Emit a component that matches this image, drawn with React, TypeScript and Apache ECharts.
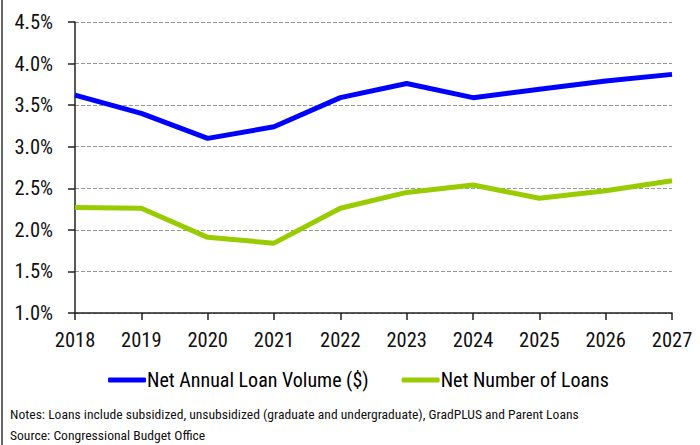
import React, { useEffect, useRef } from "react";
import * as echarts from "echarts";

const years = ["2018", "2019", "2020", "2021", "2022", "2023", "2024", "2025", "2026", "2027"];
const loanVolume = [3.62, 3.40, 3.10, 3.24, 3.59, 3.76, 3.59, 3.69, 3.79, 3.87];
const loanCount = [2.27, 2.26, 1.91, 1.84, 2.26, 2.45, 2.54, 2.38, 2.47, 2.59];
const seriesNames = ["Net Annual Loan Volume ($)", "Net Number of Loans"];
const notes = "Notes: Loans include subsidized, unsubsidized (graduate and undergraduate), GradPLUS and Parent Loans";
const source = "Source: Congressional Budget Office";

const FONT = "'Liberation Sans Narrow', 'Roboto Condensed', 'Arial Narrow', 'Liberation Sans', sans-serif";

export default function App() {
  const ref = useRef<HTMLDivElement>(null);
  useEffect(() => {
    if (!ref.current) return;
    const chart = echarts.init(ref.current, null, { renderer: "svg" });
    chart.setOption({
      animation: false,
      grid: { left: 75, right: 28, top: 22, bottom: 132 },
      legend: {
        top: 365,
        left: 103,
        itemWidth: 38,
        itemHeight: 5,
        itemGap: 33,
        textStyle: { fontFamily: FONT, fontSize: 20, color: "#000", padding: [0, 0, 0, -4] },
        icon: "roundRect",
        data: seriesNames,
      },
      xAxis: {
        type: "category",
        data: years,
        boundaryGap: false,
        axisLine: { lineStyle: { color: "#222", width: 1.5 } },
        axisTick: { length: 7, lineStyle: { color: "#222", width: 1.5 } },
        axisLabel: { fontFamily: FONT, fontSize: 20.5, color: "#111", margin: 16 },
      },
      yAxis: {
        type: "value",
        min: 1,
        max: 4.5,
        interval: 0.5,
        axisLine: { show: true, lineStyle: { color: "#222", width: 1.5 } },
        axisTick: { show: true, length: 7, lineStyle: { color: "#222", width: 1.5 } },
        axisLabel: {
          fontFamily: FONT,
          fontSize: 20.5,
          color: "#111",
          margin: 22,
          formatter: (v: number) => v.toFixed(1) + "%",
        },
        splitLine: { show: true, lineStyle: { color: "#999", type: [4, 2], width: 1 } },
      },
      series: [
        {
          name: seriesNames[0],
          type: "line",
          data: loanVolume,
          symbol: "none",
          lineStyle: { color: "#0000FF", width: 5 },
          itemStyle: { color: "#0000FF" },
        },
        {
          name: seriesNames[1],
          type: "line",
          data: loanCount,
          symbol: "none",
          lineStyle: { color: "#99CC00", width: 5 },
          itemStyle: { color: "#99CC00" },
        },
      ],
      graphic: [
        { type: "line", shape: { x1: 2, y1: 0, x2: 2, y2: 445 }, style: { stroke: "#333", lineWidth: 1.5 } },
        { type: "text", left: 10, top: 407, style: { text: notes, fontFamily: FONT, fontSize: 13.6, fill: "#111" } },
        { type: "text", left: 10, top: 428, style: { text: source, fontFamily: FONT, fontSize: 13.6, fill: "#111" } },
      ],
    });
    return () => chart.dispose();
  }, []);
  return <div ref={ref} style={{ position: "fixed", left: 0, top: 0, width: 700, height: 445, background: "#fff" }} />;
}
